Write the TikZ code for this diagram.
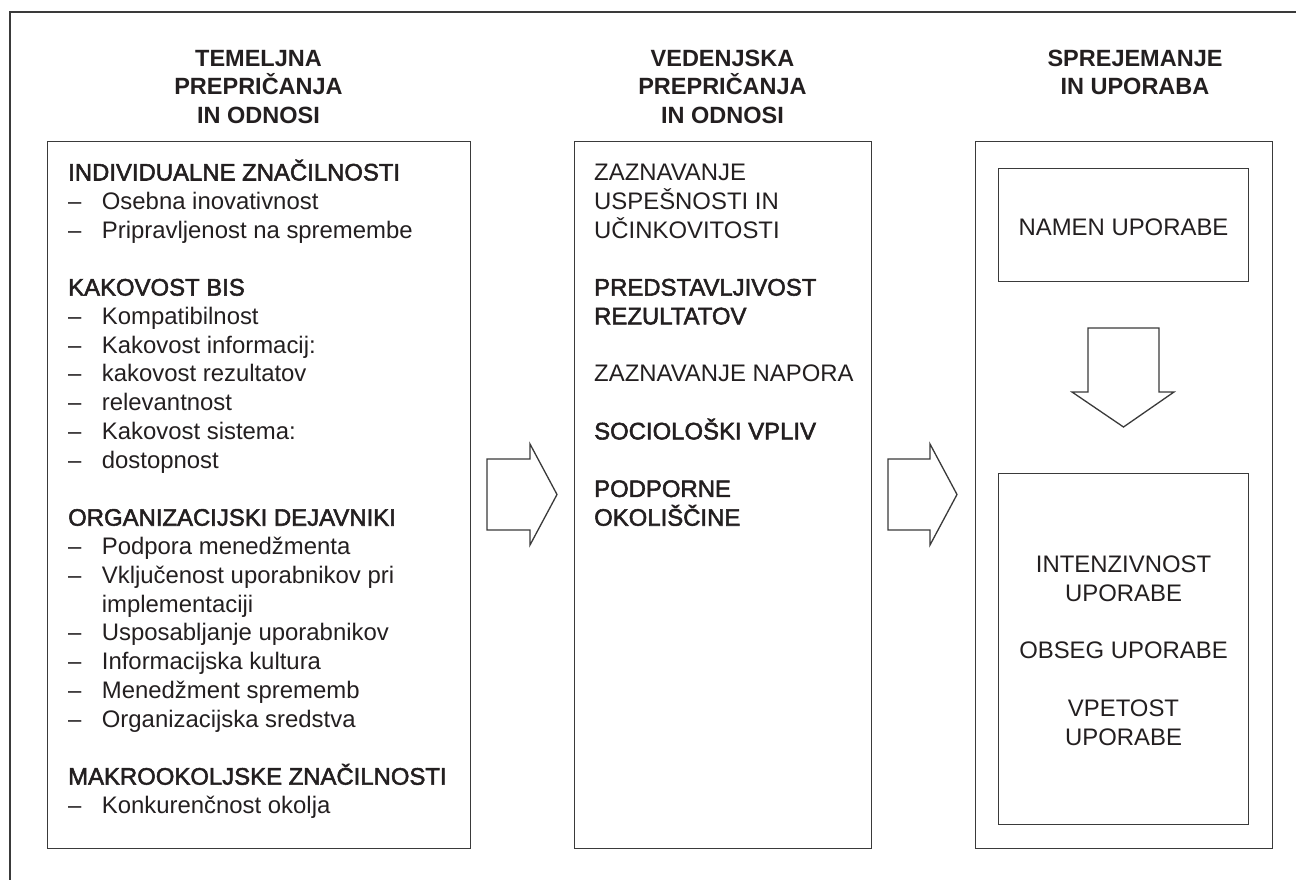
\documentclass[tikz,border=0pt]{standalone}
\usepackage{fontspec}
\setmainfont{Liberation Sans}
\newfontfamily\medfont{Liberation Sans}[FakeBold=2.2]
\definecolor{ink}{HTML}{231F20}
\definecolor{rule}{HTML}{3A3A3A}
\begin{document}
\begin{tikzpicture}[x=1pt,y=-1pt,
  frame/.style={draw=rule,line width=1.3pt},
  box/.style={draw=rule,line width=1.3pt,inner sep=0pt,anchor=north west},
  fatarrow/.style={draw=rule,line width=1.3pt,fill=white,line join=miter},
  body/.style={text=ink,inner sep=0pt,anchor=base west,font=\fontsize{23.9}{28.77}\selectfont},
  med/.style={body,font=\fontsize{23.9}{28.77}\selectfont\medfont},
  ctr/.style={body,anchor=base},
  head/.style={text=ink,inner sep=0pt,anchor=base,font=\fontsize{23.5}{28.5}\selectfont\bfseries}]
\useasboundingbox (0,0) rectangle (1296,880);
% outer frame (only top and left visible)
\coordinate (ftl) at (10,12);
\coordinate (ftr) at (1296,12);
\coordinate (fbl) at (10,880);
\draw[frame] (ftr) -- (ftl) -- (fbl);
% boxes
\node[box,minimum width=423pt,minimum height=707pt] (left) at (47,141) {};
\node[box,minimum width=297pt,minimum height=707pt] (mid) at (574,141) {};
\node[box,minimum width=297pt,minimum height=707pt] (right) at (975,141) {};
\node[box,minimum width=250pt,minimum height=113pt] (namen) at (998,168) {};
\node[box,minimum width=250pt,minimum height=351pt] (uporaba) at (998,473) {};
% headings
\node[head] (h1a) at (258.5,66.5) {TEMELJNA};
\node[head] (h1b) at (258.5,95) {PREPRIČANJA};
\node[head] (h1c) at (258.5,123.5) {IN ODNOSI};
\node[head] (h2a) at (722.5,66.5) {VEDENJSKA};
\node[head] (h2b) at (722.5,95) {PREPRIČANJA};
\node[head] (h2c) at (722.5,123.5) {IN ODNOSI};
\node[head] (h3a) at (1135,66.5) {SPREJEMANJE};
\node[head] (h3b) at (1135,95) {IN UPORABA};
% left box content
\foreach \k/\t [count=\i] in {0/INDIVIDUALNE ZNAČILNOSTI,4/KAKOVOST BIS,12/ORGANIZACIJSKI DEJAVNIKI,21/MAKROOKOLJSKE ZNAČILNOSTI}
  \node[med] (lh\i) at (68,180.5+\k*28.77) {\t};
\foreach \k/\t [count=\i] in {1/Osebna inovativnost,2/Pripravljenost na spremembe,5/Kompatibilnost,6/Kakovost informacij:,7/kakovost rezultatov,8/relevantnost,9/Kakovost sistema:,10/dostopnost,13/Podpora menedžmenta,14/Vključenost uporabnikov pri,16/Usposabljanje uporabnikov,17/Informacijska kultura,18/Menedžment sprememb,19/Organizacijska sredstva,22/Konkurenčnost okolja}{
  \node[body] (ld\i) at (68,180.5+\k*28.77) {–};
  \node[body] (li\i) at (101.7,180.5+\k*28.77) {\t};
}
\node[body] (li0) at (101.7,180.5+15*28.77) {implementaciji};
% middle box content
\foreach \k/\t [count=\i] in {0/ZAZNAVANJE,1/USPEŠNOSTI IN,2/UČINKOVITOSTI,7/ZAZNAVANJE NAPORA}
  \node[body] (m\i) at (594,180.5+\k*28.77) {\t};
\foreach \k/\t [count=\i] in {4/PREDSTAVLJIVOST,5/REZULTATOV,9/SOCIOLOŠKI VPLIV,11/PODPORNE,12/OKOLIŠČINE}
  \node[med] (mm\i) at (594,180.5+\k*28.77) {\t};
% right box content
\node[ctr] (namentxt) at (1123.5,235) {NAMEN UPORABE};
\foreach \k/\t [count=\i] in {0/INTENZIVNOST,1/UPORABE,3/OBSEG UPORABE,5/VPETOST,6/UPORABE}
  \node[ctr] (r\i) at (1123.5,572.5+\k*28.77) {\t};
% block arrows
\draw[fatarrow] (487,459) -- (530,459) -- (530,444) -- (557,494.5) -- (530,545) -- (530,530) -- (487,530) -- cycle;
\draw[fatarrow] (888,459) -- (930,459) -- (930,444) -- (957,494.5) -- (930,545) -- (930,530) -- (888,530) -- cycle;
\draw[fatarrow] (1088,328) -- (1159,328) -- (1159,392) -- (1174,392) -- (1123.5,427) -- (1072,392) -- (1088,392) -- cycle;
\end{tikzpicture}
\end{document}
